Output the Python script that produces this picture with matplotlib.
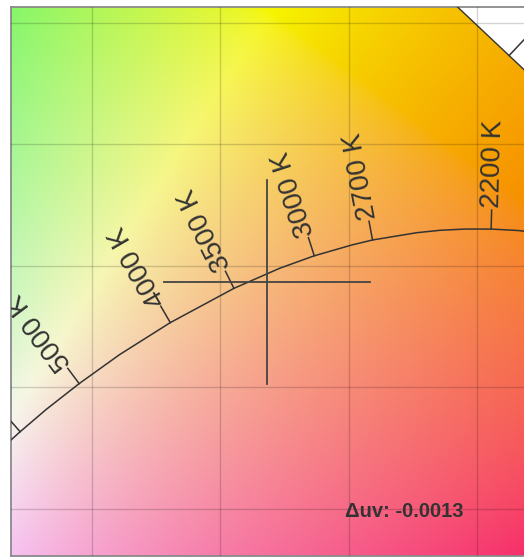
import numpy as np
import matplotlib
matplotlib.use("Agg")
import matplotlib.pyplot as plt

plt.rcParams["font.family"] = ["Liberation Sans", "DejaVu Sans"]

# Planckian locus (CIE 1931 xy)
cct = [1900, 2000, 2100, 2200, 2300, 2400, 2500, 2700, 2800, 3000, 3200,
       3500, 4000, 4500, 5000, 5500, 6000, 6500, 7000]
locus_x = [0.5381, 0.5269, 0.5160, 0.5055, 0.4953, 0.4857, 0.4765, 0.4593,
           0.4514, 0.4366, 0.4232, 0.4053, 0.3805, 0.3607, 0.3450, 0.3323,
           0.3220, 0.3135, 0.3064]
locus_y = [0.4111, 0.4133, 0.4146, 0.4152, 0.4152, 0.4147, 0.4137, 0.4107,
           0.4087, 0.4042, 0.3991, 0.3908, 0.3767, 0.3635, 0.3516, 0.3411,
           0.3318, 0.3237, 0.3165]
labelled_cct = [2200, 2700, 3000, 3500, 4000, 5000, 6000]

# spectral locus (nm, x, y)
wl = [560, 570, 580, 590, 600]
spec_x = [0.3731, 0.4441, 0.5125, 0.5752, 0.6270]
spec_y = [0.6245, 0.5547, 0.4866, 0.4242, 0.3725]
ticked_wl = [580]

# measured point
point_x = 0.4182
point_y = 0.3934
duv = -0.0013

x_lim = (0.31844, 0.51831)
y_lim = (0.28066, 0.50658)

W, H = 524, 558
fig = plt.figure(figsize=(W / 100, H / 100), dpi=100)
ax = fig.add_axes([11 / W, 2 / H, 513 / W, 549 / H])
ax.set_xlim(*x_lim)
ax.set_ylim(*y_lim)

# chromaticity background
gx = np.linspace(x_lim[0], x_lim[1], 320)
gy = np.linspace(y_lim[0], y_lim[1], 320)
xx, yy = np.meshgrid(gx, gy)
X = xx / yy
Y = np.ones_like(xx)
Z = (1 - xx - yy) / yy
R = 3.2406 * X - 1.5372 * Y - 0.4986 * Z
G = -0.9689 * X + 1.8758 * Y + 0.0415 * Z
B = 0.0557 * X - 0.2040 * Y + 1.0570 * Z
rgb = np.clip(np.dstack([R, G, B]), 0, None)
rgb = rgb / rgb.max(axis=2, keepdims=True)
rgb = np.where(rgb <= 0.0031308, 12.92 * rgb, 1.055 * rgb ** (1 / 2.4) - 0.055)
rgb = np.clip(rgb * 0.965, 0, 1)
ax.imshow(rgb, extent=[x_lim[0], x_lim[1], y_lim[0], y_lim[1]], origin="lower",
          aspect="auto", interpolation="bilinear", zorder=0)

# outside of spectral locus -> white
ax.fill(spec_x + [0.8, 0.8, spec_x[0]], spec_y + [spec_y[-1], 0.8, 0.8],
        color="white", zorder=1, lw=0)
ax.plot(spec_x, spec_y, color="#333333", lw=1.0, zorder=3)

ax.set_xticks([0.35, 0.40, 0.45, 0.50])
ax.set_yticks([0.30, 0.35, 0.40, 0.45, 0.50])
ax.tick_params(length=0, labelbottom=False, labelleft=False)
ax.grid(True, color="black", alpha=0.17, lw=1.0, zorder=2)
ax.set_axisbelow(False)
for side in ["left", "top", "bottom"]:
    ax.spines[side].set_color("#8a8a8a")
    ax.spines[side].set_linewidth(1.3)
ax.spines["right"].set_visible(False)

ax.plot(locus_x, locus_y, color="#333333", lw=1.1, zorder=3)

fig.canvas.draw()
to_px = ax.transData.transform
to_data = ax.transData.inverted().transform


def tick_label(xs, ys, i, text=None, length=19):
    p0 = to_px((xs[i - 1], ys[i - 1]))
    p1 = to_px((xs[i + 1], ys[i + 1]))
    t = p1 - p0
    t = t / np.hypot(*t)
    n = np.array([-t[1], t[0]])
    base = to_px((xs[i], ys[i]))
    end = base + n * length
    b, e = to_data(base), to_data(end)
    ax.plot([b[0], e[0]], [b[1], e[1]], color="#333333", lw=1.1, zorder=3)
    if text is None:
        return
    tp = to_data(base + n * (length + 2))
    ang = np.degrees(np.arctan2(n[1], n[0]))
    ax.text(tp[0], tp[1], text, rotation=ang, rotation_mode="anchor",
            ha="left", va="center", fontsize=20, color="#333333",
            clip_on=True, zorder=4)


# locus is stored from low to high CCT (x decreasing): tangent toward lower CCT
rx = locus_x[::-1]
ry = locus_y[::-1]
rc = cct[::-1]
for T in labelled_cct:
    tick_label(rx, ry, rc.index(T), f"{T} K")

for w in ticked_wl:
    tick_label(spec_x, spec_y, wl.index(w), length=40)

# crosshair
ax.plot([point_x, point_x], [point_y - 0.042, point_y + 0.042],
        color="#444444", lw=1.3, zorder=5)
ax.plot([point_x - 0.040, point_x + 0.040], [point_y, point_y],
        color="#444444", lw=1.3, zorder=5)

ax.text(0.651, 0.071, f"\u0394uv: {duv:.4f}", transform=ax.transAxes,
        ha="left", va="baseline", fontsize=14.5, fontweight="bold",
        color="#333333", zorder=6)

fig.savefig("out.png", dpi=100)
